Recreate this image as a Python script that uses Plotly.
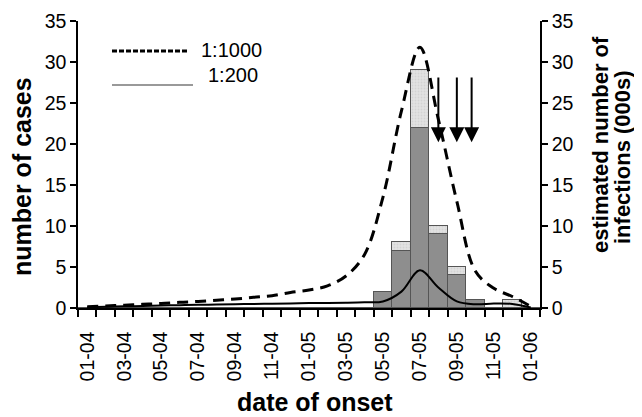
import plotly.graph_objects as go

months = ["01-04", "02-04", "03-04", "04-04", "05-04", "06-04", "07-04", "08-04",
          "09-04", "10-04", "11-04", "12-04", "01-05", "02-05", "03-05", "04-05",
          "05-05", "06-05", "07-05", "08-05", "09-05", "10-05", "11-05", "12-05", "01-06"]
cases_dark = [0, 0, 0, 0, 0, 0, 0, 0, 0, 0, 0, 0, 0, 0, 0, 0,
              2, 7, 22, 9, 4, 1, 0, 0, 0]
cases_light = [0, 0, 0, 0, 0, 0, 0, 0, 0, 0, 0, 0, 0, 0, 0, 0,
               0, 1, 7, 1, 1, 0, 0, 1, 0]
inf_1000 = [0.15, 0.25, 0.35, 0.45, 0.55, 0.7, 0.8, 0.95, 1.1, 1.3, 1.5, 1.9, 2.2,
            2.7, 3.9, 6.5, 13.5, 24.0, 31.8, 23.0, 13.0, 4.5, 2.4, 1.4, 0.2]
inf_200 = [0.1, 0.15, 0.2, 0.25, 0.3, 0.35, 0.4, 0.42, 0.45, 0.5, 0.52, 0.55, 0.6,
           0.62, 0.65, 0.7, 0.8, 2.0, 4.6, 2.5, 0.8, 0.45, 0.55, 0.5, 0.05]
arrow_x = [19.0, 20.0, 20.8]
arrow_from, arrow_to = 28.3, 20.2
tick_labels = [m if i % 2 == 0 else "" for i, m in enumerate(months)]

FONT = "Liberation Sans, Arial, sans-serif"

fig = go.Figure()
fig.add_trace(go.Bar(x=months, y=cases_dark, width=1, marker=dict(color="#8e8e8e", line=dict(color="#555555", width=1)),
                     showlegend=False))
fig.add_trace(go.Bar(x=months, y=cases_light, width=1,
                     marker=dict(color="#e2e2e2", line=dict(color="#555555", width=1),
                                 pattern=dict(shape=".", fgcolor="#c4c4c4", bgcolor="#e2e2e2", size=3, solidity=0.3)),
                     showlegend=False))
fig.add_trace(go.Scatter(x=months, y=inf_1000, mode="lines", yaxis="y2",
                         line=dict(color="black", width=3, dash="11px,7px", shape="spline", smoothing=1.0),
                         showlegend=False))
fig.add_trace(go.Scatter(x=months, y=inf_200, mode="lines", yaxis="y2",
                         line=dict(color="black", width=2, shape="spline", smoothing=1.0),
                         showlegend=False))

annotations = []
for ax_ in arrow_x:
    annotations.append(dict(x=ax_, y=arrow_to, ax=ax_, ay=arrow_from, xref="x", yref="y",
                            axref="x", ayref="y", showarrow=True, arrowhead=2, arrowsize=1.5,
                            arrowwidth=2, arrowcolor="black", text=""))

# plot area: paper x 0..1 -> 78..540 px, paper y 0..1 -> 308..21 px
def px(xp, yp):
    return (xp - 78) / 462.0, (308 - yp) / 287.0


def txt(text, xp, yp, size, angle=0, bold=False, xanchor="center"):
    t = "<b>%s</b>" % text if bold else text
    x, y = px(xp, yp)
    annotations.append(dict(x=x, y=y, xref="paper", yref="paper", text=t, showarrow=False,
                            xanchor=xanchor, yanchor="middle", textangle=angle, borderpad=0,
                            font=dict(family=FONT, size=size, color="black")))


txt("1:1000", 200, 50, 20, xanchor="left")
txt("1:200", 207, 75, 20, xanchor="left")
txt("number of cases", 22, 177, 25, angle=-90, bold=True)
txt("estimated number of", 600, 145, 22, angle=-90, bold=True)
txt("infections (000s)", 622, 157, 22, angle=-90, bold=True)
txt("date of onset", 315, 402, 25, bold=True)

lx0, _ = px(112, 0)
lx1, ly1 = px(188, 51)
lx2, ly2 = px(193, 85)
shapes = [
    dict(type="line", xref="paper", yref="paper", x0=lx0, x1=lx1, y0=ly1, y1=ly1,
         line=dict(color="black", width=3, dash="5px,2px")),
    dict(type="line", xref="paper", yref="paper", x0=lx0, x1=lx2, y0=ly2, y1=ly2,
         line=dict(color="#777777", width=1.5)),
]

fig.update_layout(
    width=642, height=417, barmode="stack", bargap=0,
    margin=dict(l=70, r=110, t=13, b=117, autoexpand=False),
    plot_bgcolor="white", paper_bgcolor="white",
    font=dict(family=FONT, size=19, color="black"),
    annotations=annotations, shapes=shapes,
    xaxis=dict(type="category", categoryorder="array", categoryarray=months, automargin=False,
               range=[-0.5, 24.5], tickmode="array", tickvals=months, ticktext=tick_labels,
               tickson="boundaries", ticks="outside", ticklen=7, tickwidth=1.5, tickcolor="black",
               tickangle=-90, showline=True, linecolor="black", linewidth=1.5, showgrid=False,
               tickfont=dict(size=19.5), ticklabelstandoff=14, ticklabeloverflow="allow"),
    yaxis=dict(range=[0, 35], dtick=5, ticks="outside", ticklen=6, tickwidth=1.5, tickcolor="black",
               showline=True, linecolor="black", linewidth=1.5, showgrid=False, zeroline=False,
               automargin=False, tickfont=dict(size=19.5), ticklabeloverflow="allow"),
    yaxis2=dict(range=[0, 35], dtick=5, overlaying="y", side="right", anchor="x", automargin=False,
                ticks="outside", ticklen=6, tickwidth=1.5, tickcolor="black",
                showline=True, linecolor="black", linewidth=1.5, showgrid=False, zeroline=False,
                tickfont=dict(size=19.5), ticklabeloverflow="allow"),
)

fig.write_html("out.html")
